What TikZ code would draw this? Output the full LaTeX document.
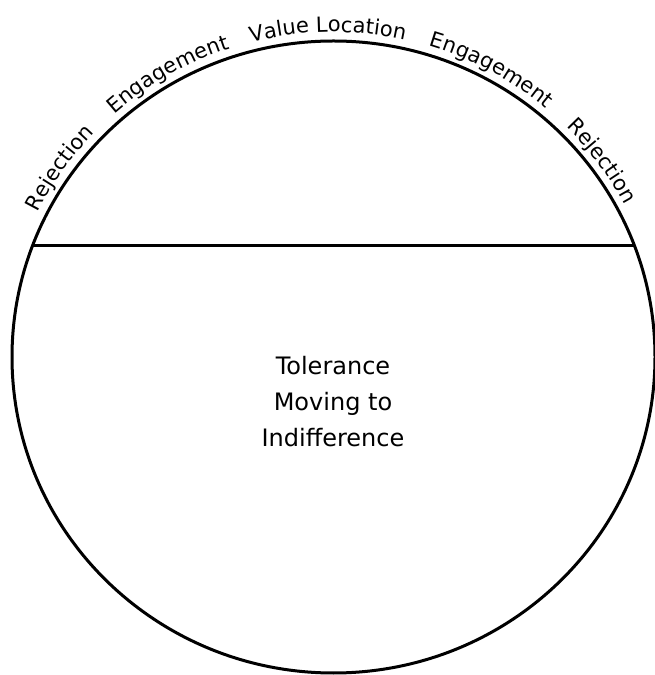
\documentclass[tikz,border=0pt]{standalone}
\usepackage{fontspec}
\setmainfont{DejaVu Sans}
\usetikzlibrary{shapes.geometric,decorations.text}
\begin{document}
\begin{tikzpicture}[x=1pt,y=1pt,
  ring/.style={draw=black, line width=3pt, ellipse, inner sep=0pt, outer sep=0pt, minimum width=643pt, minimum height=632pt},
  divider/.style={draw=black, line width=3pt},
  arclabel/.style={decorate, decoration={text along path, text align=center, text={|\fontsize{21}{25}\selectfont|#1}}}
]
\useasboundingbox (0,0) rectangle (655,675);
\node[ring] (circ) at (333.5,318) {};
\coordinate (L) at (32.5,429);
\coordinate (R) at (634.5,429);
\draw[divider] (L) -- (R);
\path[arclabel={Rejection}] (circ.center) ++(165:330pt and 325pt) arc[start angle=165, end angle=125, x radius=330pt, y radius=325pt];
\path[arclabel={Engagement}] (circ.center) ++(140:330pt and 325pt) arc[start angle=140, end angle=100, x radius=330pt, y radius=325pt];
\path[arclabel={Value Location}] (circ.center) ++(115:330pt and 325pt) arc[start angle=115, end angle=67, x radius=330pt, y radius=325pt];
\path[arclabel={Engagement}] (circ.center) ++(81.5:330pt and 325pt) arc[start angle=81.5, end angle=41.5, x radius=330pt, y radius=325pt];
\path[arclabel={Rejection}] (circ.center) ++(56.5:330pt and 325pt) arc[start angle=56.5, end angle=16.5, x radius=330pt, y radius=325pt];
\node[align=center, font=\fontsize{24}{36}\selectfont] (mid) at (333,273) {Tolerance\\Moving to\\Indifference};
\end{tikzpicture}
\end{document}
